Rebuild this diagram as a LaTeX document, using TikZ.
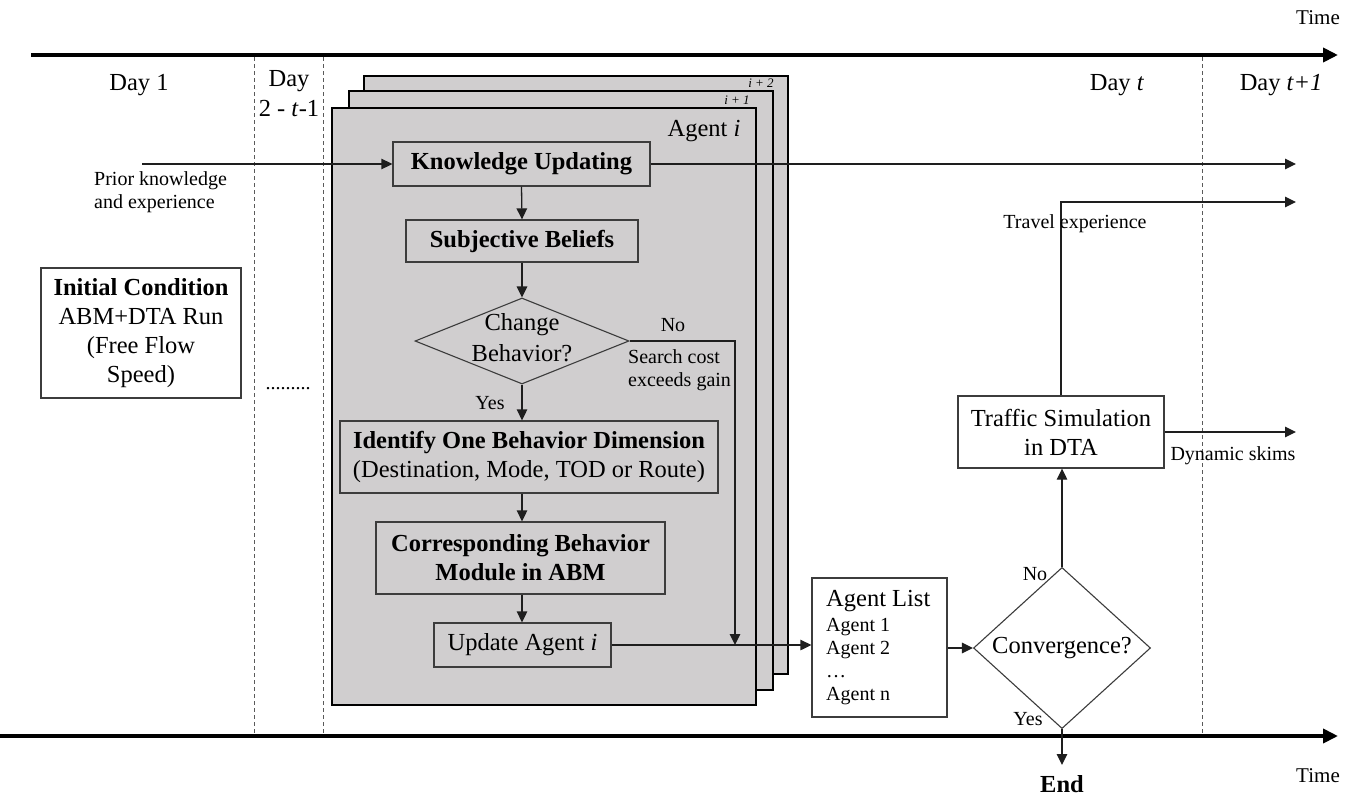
\documentclass[tikz,border=0pt]{standalone}
\usepackage{fontspec}
\setmainfont{Liberation Serif}
\usetikzlibrary{arrows.meta,shapes.geometric}

\newcommand{\bigtxt}{\fontsize{24.5}{29}\selectfont}
\newcommand{\smalltxt}{\fontsize{20}{23}\selectfont}
\newcommand{\tinytxt}{\fontsize{13}{15}\selectfont}

\definecolor{cardgray}{HTML}{D0CECF}
\definecolor{boxline}{HTML}{3C3C3C}
\definecolor{linkline}{HTML}{1E1E1E}
\definecolor{dashline}{HTML}{5A5A5A}

\tikzset{
  timeline/.style={line width=4.6pt, -{Triangle[length=15pt,width=14pt]}},
  dayline/.style={dashline, line width=1pt, dash pattern=on 4pt off 3pt},
  card/.style={draw=black, line width=2pt, fill=cardgray},
  procbox/.style={draw=boxline, line width=1.3pt, fill=cardgray, inner sep=0pt, align=center, font=\bigtxt},
  plainbox/.style={draw=boxline, line width=1.3pt, fill=white, inner sep=0pt, align=center, font=\bigtxt},
  decision/.style={draw=boxline, line width=1.1pt, shape=diamond, inner sep=0pt, align=center, font=\bigtxt},
  link/.style={linkline, line width=1.3pt, -{Triangle[length=11pt,width=10.5pt]}},
  lbl/.style={inner sep=0pt, font=\smalltxt, align=left},
  daylbl/.style={inner sep=0pt, font=\bigtxt, align=center}
}

\begin{document}
\begin{tikzpicture}[x=1pt, y=-1pt]
\useasboundingbox (0,0) rectangle (1356,795);

% time axes
\coordinate (topstart) at (31,55);
\coordinate (topend) at (1338,55);
\coordinate (botstart) at (0,736);
\coordinate (botend) at (1338,736);
\draw[timeline] (topstart) -- (topend);
\draw[timeline] (botstart) -- (botend);
\node[inner sep=0pt, font=\fontsize{21}{24}\selectfont] (timetop) at (1318,18) {Time};
\node[inner sep=0pt, font=\fontsize{21}{24}\selectfont] (timebot) at (1318,776) {Time};

% day separators
\foreach \xx in {254,323,1202} {
  \draw[dayline] (\xx,57) -- (\xx,734);
}

% day headings
\node[daylbl] (day1) at (139,85) {Day 1};
\node[daylbl] (day2) at (289,81) {Day};
\node[daylbl] (day2b) at (289,109) {2 - \textit{t}-1};
\node[daylbl] (dayt) at (1117,85) {Day \textit{t}};
\node[daylbl] (dayt1) at (1281,85) {Day \textit{t+1}};

% stacked agent cards
\draw[card] (364,76) rectangle (788,674);
\draw[card] (349,91) rectangle (773,690);
\draw[card] (332,108) rectangle (756,705);
\node[inner sep=0pt, font=\tinytxt] (lblb) at (761,83) {\textit{i + 2}};
\node[inner sep=0pt, font=\tinytxt] (lblm) at (737,100) {\textit{i + 1}};
\node[inner sep=0pt, font=\bigtxt] (agenti) at (704,131) {Agent \textit{i}};

% process inside the agent card
\node[procbox, minimum width=257pt, minimum height=44pt] (know) at (521.5,164) {\textbf{Knowledge Updating}};
\node[procbox, minimum width=232pt, minimum height=42pt] (subj) at (522,241) {\textbf{Subjective Beliefs}};
\node[decision, minimum width=214pt, minimum height=86pt] (chg) at (522,341) {};
\node[inner sep=0pt, align=center, font=\fontsize{24.5}{31}\selectfont] (chgtxt) at (522,338) {Change\\Behavior?};
\node[procbox, minimum width=378pt, minimum height=72pt] (idn) at (529,457)
  {\textbf{Identify One Behavior Dimension}\\(Destination, Mode, TOD or Route)};
\node[procbox, minimum width=289pt, minimum height=72pt] (cor) at (520.5,558)
  {\textbf{Corresponding Behavior}\\\textbf{Module in ABM}};
\node[procbox, minimum width=177pt, minimum height=44pt] (upd) at (522.5,645) {Update Agent \textit{i}};

% initial condition
\node[plainbox, minimum width=200pt, minimum height=130pt] (init) at (141,333)
  {\textbf{Initial Condition}\\ABM+DTA Run\\(Free Flow\\Speed)};
\node[inner sep=0pt, font=\smalltxt] (dots) at (288,389) {.........};

% agent list, convergence, simulation
\node[plainbox, minimum width=135pt, minimum height=139pt] (lst) at (879.5,647.5) {};
\node[inner sep=0pt, anchor=west, font=\bigtxt] (lsthead) at (826,601) {Agent List};
\node[inner sep=0pt, anchor=west, font=\smalltxt, align=left] (lstbody) at (826,662)
  {Agent 1\\Agent 2\\…\\Agent n};
\node[decision, fill=white, minimum width=177pt, minimum height=111pt] (conv) at (1062,648) {Convergence?};
\node[plainbox, minimum width=206pt, minimum height=72pt] (trf) at (1061,432) {Traffic Simulation\\in DTA};

% connectors
\coordinate (prior) at (142,164);
\coordinate (knowout) at (1296,164);
\coordinate (nocorner) at (735,341);
\coordinate (travelcorner) at (1061,202);
\coordinate (travelout) at (1296,202);
\coordinate (skimout) at (1296,432);
\coordinate (endpt) at (1062,765);

\draw[link] (prior) -- (know.west);
\draw[link] (know.east) -- (knowout);
\draw[link] (know.south) -- (subj.north);
\draw[link] (subj.south) -- (chg.north);
\draw[link] (chg.south) -- (chg.south |- idn.north);
\draw[link] (chg.south |- idn.south) -- (chg.south |- cor.north);
\draw[link] (chg.south |- cor.south) -- (chg.south |- upd.north);
\draw[link] (chg.east) -- (nocorner) -- (nocorner |- upd.east);
\draw[link] (upd.east) -- (upd.east -| lst.west);
\draw[link] (lst.east |- conv.west) -- (conv.west);
\draw[link] (conv.north) -- (conv.north |- trf.south);
\draw[link] (trf.north) -- (travelcorner) -- (travelout);
\draw[link] (trf.east) -- (skimout);
\draw[link] (conv.south) -- (endpt);

% connector labels
\node[lbl, anchor=west] (priortxt) at (94,192) {Prior knowledge\\and experience};
\node[lbl] (notxt) at (673,325) {No};
\node[lbl, anchor=west] (costtxt) at (628,370) {Search cost\\exceeds gain};
\node[lbl] (yestxt) at (490,403) {Yes};
\node[lbl] (no2txt) at (1035,574) {No};
\node[lbl] (yes2txt) at (1028,719) {Yes};
\node[lbl] (traveltxt) at (1075,224) {Travel experience};
\node[lbl] (skimtxt) at (1233,456) {Dynamic skims};
\node[inner sep=0pt, font=\bigtxt] (endtxt) at (1062,784) {\textbf{End}};
\end{tikzpicture}
\end{document}
